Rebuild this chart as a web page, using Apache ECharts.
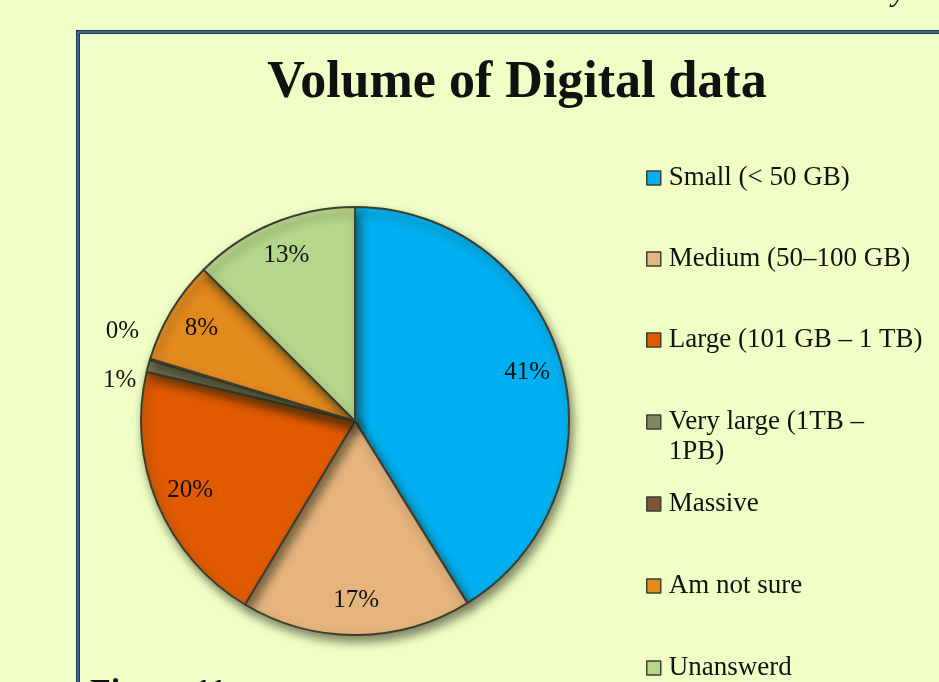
<!DOCTYPE html>
<html>
<head>
<meta charset="utf-8">
<script src="https://cdn.jsdelivr.net/npm/echarts@6/dist/echarts.min.js"></script>
<style>
html, body { margin: 0; padding: 0; background: #eefec5; }
#chart { width: 939px; height: 682px; }
</style>
</head>
<body>
<div id="chart"></div>
<script>
// categories and shares (labels show the rounded %)
var categories = ['Small (< 50 GB)', 'Medium (50–100 GB)', 'Large (101 GB – 1 TB)',
    'Very large (1TB – 1PB)', 'Massive', 'Am not sure', 'Unanswerd'];
var shares = [41.2, 17.4, 20.1, 0.9, 0.1, 7.8, 12.5];
var colors = ['#00b0f0', '#e6b47e', '#e05a00', '#828662', '#7f5537', '#e38a1e', '#b5d68b'];
var outsideLabels = ['Very large (1TB – 1PB)', 'Massive'];
// small vertical nudges for the two outside labels, as in the original
var labelNudge = { 'Very large (1TB – 1PB)': -5, 'Massive': -27 };

var serif = '"Liberation Serif", "DejaVu Serif", serif';
var chart = echarts.init(document.getElementById('chart'));

function pct(p) { return Math.round(p.percent) + '%'; }

var pieData = categories.map(function (name, i) {
    return {
        name: name,
        value: shares[i],
        itemStyle: { color: colors[i] },
        label: { show: outsideLabels.indexOf(name) >= 0 }
    };
});
var labelData = categories.map(function (name, i) {
    return {
        name: name,
        value: shares[i],
        label: { show: outsideLabels.indexOf(name) < 0 }
    };
});

var legendBase = {
    orient: 'vertical',
    left: 641,
    height: 320,
    itemWidth: 14,
    itemHeight: 14,
    itemGap: 51,
    icon: 'rect',
    itemStyle: { borderColor: '#3f3f33', borderWidth: 1.5 },
    textStyle: { fontFamily: serif, fontSize: 27, color: '#111', lineHeight: 30, padding: [0, 0, 0, 3] },
    selectedMode: false
};
function legend(extra) { return Object.assign({}, legendBase, extra); }

chart.setOption({
    backgroundColor: '#eefec5',
    title: {
        text: 'Volume of Digital data',
        left: 512,
        top: 53,
        textAlign: 'center',
        textStyle: { fontFamily: serif, fontSize: 52, fontWeight: 'bold', color: '#111' }
    },
    legend: [
        legend({ top: 158, data: categories.slice(0, 3) }),
        legend({
            top: 372,
            // blank first line keeps the swatch beside the first text line
            formatter: function () { return ' \nVery large (1TB –\n1PB)'; },
            data: categories.slice(3, 4)
        }),
        legend({ top: 484, itemGap: 52, data: categories.slice(4) })
    ],
    graphic: [
        { type: 'rect', shape: { x: 78, y: 32, width: 900, height: 700 },
          style: { fill: null, stroke: '#1a3560', lineWidth: 4 } },
        { type: 'rect', shape: { x: 78, y: 32, width: 900, height: 700 },
          style: { fill: null, stroke: '#6d9ac4', lineWidth: 1 } },
        { type: 'text', left: 892, top: -22,
          style: { text: 'y', fontFamily: serif, fontSize: 30, fontStyle: 'italic', fill: '#111' } },
        { type: 'text', left: 90, top: 676,
          style: { text: 'Figure 11', fontFamily: serif, fontSize: 34, fontWeight: 'bold', fill: '#111' } }
    ],
    series: [
        {
            type: 'pie',
            center: [355, 421],
            radius: [0, 214],
            startAngle: 90,
            clockwise: true,
            silent: true,
            animation: false,
            itemStyle: {
                borderColor: '#3d3d30',
                borderWidth: 2,
                shadowBlur: 10,
                shadowOffsetX: 3,
                shadowOffsetY: 6,
                shadowColor: 'rgba(40,40,20,0.55)'
            },
            label: {
                position: 'outside',
                formatter: pct,
                fontFamily: serif,
                fontSize: 25,
                color: '#111'
            },
            labelLine: { show: false, length: 3, length2: 3 },
            labelLayout: function (p) {
                var name = categories[p.dataIndex];
                return labelNudge[name] != null ? { dy: labelNudge[name] } : {};
            },
            data: pieData
        },
        {
            // invisible helper ring so inside labels sit at ~0.83 of the radius
            type: 'pie',
            center: [355, 421],
            radius: [0, 352],
            startAngle: 90,
            clockwise: true,
            silent: true,
            animation: false,
            itemStyle: { color: 'rgba(0,0,0,0)', borderWidth: 0 },
            label: {
                position: 'inside',
                formatter: pct,
                fontFamily: serif,
                fontSize: 25,
                color: '#111'
            },
            labelLine: { show: false },
            data: labelData
        }
    ]
});
</script>
</body>
</html>
